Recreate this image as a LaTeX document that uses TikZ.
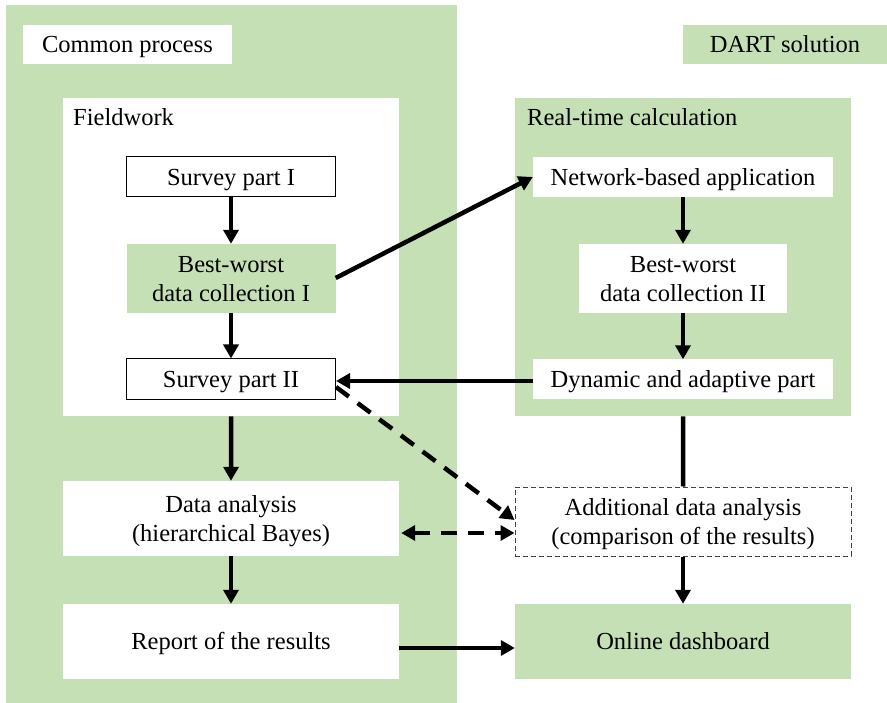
\documentclass[tikz,border=0pt]{standalone}
\usepackage{fontspec}
\setmainfont{Liberation Serif}
\usetikzlibrary{arrows.meta}
\definecolor{lgreen}{HTML}{C5E0B4}
\begin{document}
\begin{tikzpicture}[x=1pt,y=-1pt,
  every node/.style={font=\fontsize{24.5}{29}\selectfont, inner sep=0pt, align=center},
  one/.style={text height=16.2pt, text depth=0pt},
  two/.style={text height=45.2pt, text depth=0pt},
  gbox/.style={fill=lgreen, draw=none},
  wbox/.style={fill=white, draw=none},
  bbox/.style={fill=white, draw=black, line width=1pt},
  dbox/.style={fill=white, draw=black!75, line width=1pt, dash pattern=on 5pt off 3pt},
  arr/.style={line width=4.5pt, -{Triangle[length=14pt,width=15pt]}},
  darr/.style={line width=4.5pt, dash pattern=on 16pt off 11pt, -{Triangle[length=14pt,width=15pt]}},
  ddarr/.style={line width=4.5pt, dash pattern=on 16pt off 11pt, {Triangle[length=14pt,width=15pt]}-{Triangle[length=14pt,width=15pt]}},
  pline/.style={line width=4.5pt}
]
\useasboundingbox (0,0) rectangle (887,703);
\fill[white] (0,0) rectangle (887,703);
% big containers
\node[gbox, minimum width=451pt, minimum height=703pt, anchor=north west] (common) at (6,5) {};
\node[wbox, one, minimum width=209pt, minimum height=39pt] (commonlbl) at (127.5,44.5) {Common process};
\node[gbox, one, minimum width=204pt, minimum height=39pt] (dart) at (785,44.5) {DART solution};
\node[wbox, minimum width=336pt, minimum height=318pt, anchor=north west] (field) at (63,98) {};
\node[gbox, minimum width=336pt, minimum height=318pt, anchor=north west] (rt) at (515,98) {};
\node[anchor=base west] (fieldlbl) at (73,126) {Fieldwork};
\node[anchor=base west] (rtlbl) at (527,126) {Real-time calculation};
% left column
\node[bbox, one, minimum width=209pt, minimum height=40pt] (s1) at (231,177) {Survey part I};
\node[gbox, two, minimum width=209pt, minimum height=69pt] (bw1) at (231,278.5) {Best-worst\\data collection I};
\node[bbox, one, minimum width=209pt, minimum height=41pt] (s2) at (231,379.5) {Survey part II};
\node[wbox, two, minimum width=336pt, minimum height=75pt] (da) at (231,518.5) {Data analysis\\(hierarchical Bayes)};
\node[wbox, one, minimum width=336pt, minimum height=75pt] (rep) at (231,641.5) {Report of the results};
% right column
\node[wbox, one, minimum width=300pt, minimum height=40pt] (net) at (683,177) {Network-based application};
\node[wbox, two, minimum width=208pt, minimum height=69pt] (bw2) at (683,278.5) {Best-worst\\data collection II};
\node[wbox, one, minimum width=300pt, minimum height=40pt] (dyn) at (683,379.5) {Dynamic and adaptive part};
\node[dbox, two, minimum width=336pt, minimum height=69pt] (add) at (683,521.5) {Additional data analysis\\(comparison of the results)};
\node[gbox, one, minimum width=336pt, minimum height=75pt] (dash) at (683,641.5) {Online dashboard};
% connectors
\draw[arr] (s1.south) -- (bw1.north);
\draw[arr] (bw1.south) -- (s2.north);
\draw[arr] (field.south) -- (da.north);
\draw[arr] (da.south) -- (rep.north);
\draw[arr] ([yshift=-6.5pt]rep.east) -- ([yshift=-6.5pt]dash.west);
\draw[arr] ([yshift=0.5pt]bw1.east) -- (net.west);
\draw[arr] ([yshift=-1.5pt]dyn.west) -- ([yshift=-1.5pt]s2.east);
\draw[arr] (net.south) -- (bw2.north);
\draw[arr] (bw2.south) -- (dyn.north);
\draw[pline] (rt.south) -- (add.north);
\draw[arr] (add.south) -- (dash.north);
\draw[darr] ([yshift=-7.5pt]s2.east) -- ([yshift=1.5pt]add.west);
\draw[ddarr] ([yshift=-14.5pt,xshift=2pt]da.east) -- ([yshift=-11.5pt]add.west);
\end{tikzpicture}
\end{document}
